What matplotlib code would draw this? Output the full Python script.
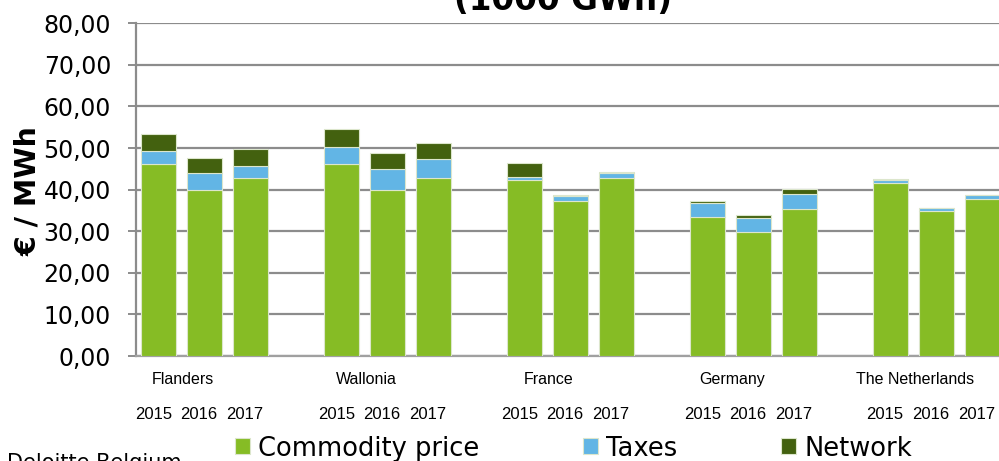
import numpy as np
from matplotlib import pyplot as plt

# values (EUR / MWh)
regions = ["Flanders", "Wallonia", "France", "Germany", "The Netherlands"]
years = ["2015", "2016", "2017"]
commodity = [46.1, 40.0, 42.9,
             46.1, 40.0, 42.9,
             42.4, 37.3, 42.8,
             33.4, 29.8, 35.3,
             41.6, 34.8, 37.8]
taxes = [3.3, 3.9, 2.8,
         4.2, 5.0, 4.5,
         0.6, 1.1, 1.1,
         3.4, 3.3, 3.7,
         0.8, 0.7, 0.9]
network = [4.1, 3.7, 4.1,
           4.2, 3.9, 3.9,
           3.4, 0.4, 0.4,
           0.5, 0.8, 1.1,
           0.1, 0.1, 0.1]
y_ticks = [0, 10, 20, 30, 40, 50, 60, 70, 80]

c_green = "#86BC25"
c_blue = "#62B5E5"
c_dark = "#43610F"
grid_col = "#8C8C8C"

# 3 bars per region, then one empty slot
x = np.array([g * 4 + i for g in range(len(regions)) for i in range(len(years))])
commodity = np.array(commodity)
taxes = np.array(taxes)
network = np.array(network)

fig = plt.figure(figsize=(9.99, 4.61), dpi=100)
ax = fig.add_axes([136 / 999, 105 / 461, 869 / 999, 332.7 / 461])

w = 0.76
edge = dict(edgecolor="#DCE6CC", linewidth=0.8, zorder=3)
ax.bar(x, commodity, w, color=c_green, label="Commodity price", **edge)
ax.bar(x, taxes, w, bottom=commodity, color=c_blue, label="Taxes", **edge)
ax.bar(x, network, w, bottom=commodity + taxes, color=c_dark, label="Network", **edge)

ax.set_xlim(-0.5, 18.5)
ax.set_ylim(0, 80)
ax.set_yticks(y_ticks)
ax.set_yticklabels([f"{v:.2f}".replace(".", ",") for v in y_ticks], fontsize=17)
ax.yaxis.grid(True, color=grid_col, linewidth=1.6, zorder=0)
ax.set_axisbelow(True)
ax.tick_params(axis="y", length=6, width=1.4, color=grid_col, pad=12)
ax.set_xticks([])
for s in ["top", "right"]:
    ax.spines[s].set_visible(False)
ax.spines["left"].set_color(grid_col)
ax.spines["left"].set_linewidth(1.6)
ax.spines["bottom"].set_color("#A0A0A0")
ax.spines["bottom"].set_linewidth(1.6)

ax.set_ylabel("€ / MWh", fontsize=20.5, fontweight="bold")
ax.yaxis.set_label_coords(-0.108, 0.495)

# category labels (two levels)
narrow = ["Liberation Sans Narrow", "Liberation Sans", "DejaVu Sans"]
tr = ax.get_xaxis_transform()
for g, name in enumerate(regions):
    ax.text(g * 4 + 1 - 0.47, -0.072, name, transform=tr, ha="center", va="center",
            fontsize=11.5, family=narrow)
for xi, yr in zip(x, years * len(regions)):
    ax.text(xi - 0.12, -0.175, yr, transform=tr, ha="center", va="center",
            fontsize=12, family=narrow)

# title (top line is cut off in the reference)
fig.text(563 / 999, 1 - 10 / 461, "(1000 GWh)", ha="center", va="baseline",
         fontsize=23.5, fontweight="bold")

# legend
handles, labels = ax.get_legend_handles_labels()
fig.legend(handles, labels, loc="center", bbox_to_anchor=(573.5 / 999, 1 - 448.5 / 461),
           ncol=3, frameon=False, fontsize=18.5, handlelength=0.58, handleheight=0.58,
           handletextpad=0.31, columnspacing=4.05, borderpad=0)

fig.text(7 / 999, (461 - 469) / 461, "Deloitte Belgium", ha="left", va="baseline",
         fontsize=15)

fig.savefig("out.png", dpi=100)
